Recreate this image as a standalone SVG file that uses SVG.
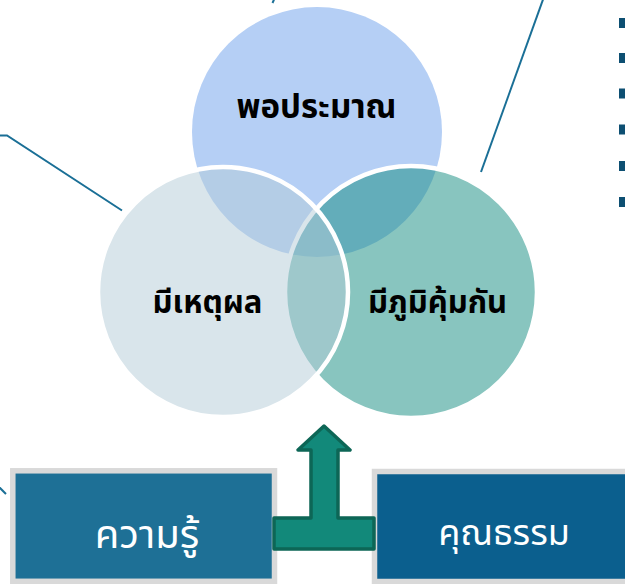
<svg xmlns="http://www.w3.org/2000/svg" width="625" height="584" viewBox="0 0 625 584">
<style>
.lbl{font-family:"Noto Sans Thai","Tahoma","Leelawadee UI","Noto Sans",sans-serif;font-weight:bold;font-size:31px;fill:#000;text-anchor:middle}
.box{font-family:"Noto Sans Thai","Tahoma","Leelawadee UI","Noto Sans",sans-serif;font-size:36px;fill:#fff;text-anchor:middle}
.conn{stroke:#1a6f96;stroke-width:2;fill:none}
.bullet{fill:#0d4f72}
</style>
<rect width="625" height="584" fill="#fff"/>
<g id="connectors">
<polyline class="conn" points="-2,135.5 7,135.5 122,210.5"/>
<line class="conn" x1="545" y1="-6" x2="481" y2="172"/>
<line class="conn" x1="276" y1="-5" x2="272.5" y2="3"/>
<line class="conn" x1="-3" y1="485" x2="6" y2="494"/>
</g>
<g id="bullets">
<rect class="bullet" x="619" y="18" width="8" height="10"/>
<rect class="bullet" x="619" y="53" width="8" height="10"/>
<rect class="bullet" x="619" y="88.5" width="8" height="10"/>
<rect class="bullet" x="619" y="124.5" width="8" height="10"/>
<rect class="bullet" x="619" y="161" width="8" height="10"/>
<rect class="bullet" x="619" y="197" width="8" height="10"/>
</g>
<g id="circle-top">
<circle cx="317" cy="132" r="125" fill="#b5cff5"/>
</g>
<g id="circle-right">
<circle cx="411" cy="292" r="126" fill="#118b7f" fill-opacity="0.5" stroke="#fff" stroke-width="4.5"/>
</g>
<g id="circle-left">
<circle cx="223" cy="292" r="125" fill="#b3cbd7" fill-opacity="0.5" stroke="#fff" stroke-width="4.5"/>
</g>
<g id="label-top"><text class="lbl" x="316.5" y="118" style="font-size:33px">พอประมาณ</text></g>
<g id="label-left"><text class="lbl" x="207.5" y="313">มีเหตุผล</text></g>
<g id="label-right"><text class="lbl" x="437.5" y="313">มีภูมิคุ้มกัน</text></g>
<g id="box-knowledge">
<rect x="12.8" y="470.8" width="261.7" height="110.5" fill="#1e7096" stroke="#d9d9d9" stroke-width="5.5"/>
<text class="box" x="147" y="548" style="font-size:40px">ความรู้</text>
</g>
<g id="box-virtue">
<rect x="374.5" y="471.5" width="262" height="110" fill="#0b5f8e" stroke="#d9d9d9" stroke-width="5.5"/>
<text class="box" x="504" y="545">คุณธรรม</text>
</g>
<g id="arrow">
<polygon points="324,426 350,450 338,450 338,518 374,518 374,549 274,549 274,518 311,518 311,450 298,450" fill="#12897a" stroke="#0d6656" stroke-width="3.5" stroke-linejoin="round"/>
</g>
</svg>
